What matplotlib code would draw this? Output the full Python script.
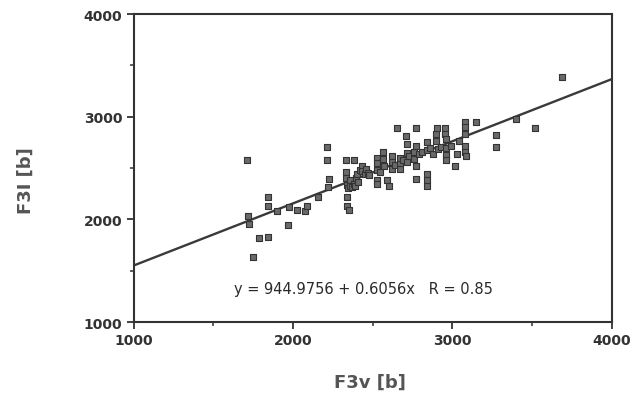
import matplotlib
matplotlib.use("Agg")
import matplotlib.pyplot as plt
import numpy as np
from matplotlib.ticker import MultipleLocator

f3v = [1710, 1720, 1722, 1752, 1790, 1846, 1846, 1846, 1898, 1970, 1972, 2027, 2075, 2086,
       2160, 2215, 2215, 2228, 2221, 2332, 2382, 2336, 2340, 2351,
       2330, 2335, 2340, 2345, 2355, 2360, 2370, 2380, 2390, 2395, 2400, 2410, 2420, 2431,
       2435, 2450, 2460, 2470, 2480,
       2525, 2525, 2525, 2525, 2525, 2545, 2566, 2566, 2570, 2588, 2600, 2619, 2619, 2619,
       2640, 2650, 2671, 2671, 2671, 2690,
       2708, 2713, 2713, 2713, 2730, 2760, 2760, 2771, 2771, 2771, 2771, 2790, 2810, 2838,
       2838, 2838, 2838, 2838,
       2860, 2880, 2900, 2900, 2905, 2910, 2930, 2955, 2955, 2963, 2963, 2963, 2963, 2990,
       3015, 3026, 3040, 3078, 3078, 3078, 3080, 3080, 3088,
       3150, 3276, 3276, 3401, 3520, 3689]
f3l = [2575, 2030, 1960, 1635, 1820, 1830, 2215, 2135, 2085, 1950, 2125, 2090, 2085, 2130,
       2215, 2705, 2575, 2390, 2315, 2575, 2575, 2215, 2135, 2095,
       2460, 2400, 2340, 2310, 2380, 2330, 2320, 2350, 2330, 2400, 2440, 2360, 2480, 2520,
       2475, 2440, 2490, 2450, 2430,
       2600, 2550, 2480, 2380, 2345, 2460, 2655, 2590, 2520, 2380, 2330, 2620, 2560, 2490,
       2530, 2895, 2600, 2540, 2490, 2580,
       2815, 2735, 2650, 2560, 2620, 2660, 2590, 2895, 2717, 2525, 2395, 2640, 2660, 2750,
       2680, 2440, 2380, 2330,
       2700, 2640, 2830, 2760, 2895, 2690, 2710, 2895, 2830, 2780, 2700, 2630, 2575, 2720,
       2525, 2636, 2760, 2950, 2900, 2830, 2717, 2660, 2620,
       2950, 2825, 2710, 2980, 2895, 3390]

intercept = 944.9756
slope = 0.6056
r_value = 0.85
x_ticks = [1000, 2000, 3000, 4000]
y_ticks = [1000, 2000, 3000, 4000]

fig = plt.figure(figsize=(6.42, 4.10), dpi=100)
ax = fig.add_axes([0.208, 0.212, 0.745, 0.751])

ax.scatter(f3v, f3l, marker='s', s=18, facecolor='#6a6a6a', edgecolor='#333333',
           linewidths=0.8, zorder=3)
xl = np.array([1000, 4000])
ax.plot(xl, intercept + slope * xl, color='#3a3a3a', lw=1.7, zorder=2)

ax.set_xlim(1000, 4000)
ax.set_ylim(1000, 4000)
ax.set_xticks(x_ticks)
ax.set_yticks(y_ticks)
ax.xaxis.set_minor_locator(MultipleLocator(500))
ax.yaxis.set_minor_locator(MultipleLocator(500))
ax.tick_params(which='major', direction='out', length=5, width=1.3, color='#333333',
               labelsize=10, labelcolor='#333333', pad=3)
ax.tick_params(which='minor', direction='out', length=3, width=1.1, color='#333333')
for lab in ax.get_xticklabels() + ax.get_yticklabels():
    lab.set_fontweight('bold')
for sp in ax.spines.values():
    sp.set_linewidth(1.5)
    sp.set_color('#333333')

ax.text(2440, 1330, f"y = {intercept:.4f} + {slope:.4f}x   R = {r_value:.2f}",
        ha='center', va='center', fontsize=10.5, color='#2a2a2a')

fig.text(0.577, 0.066, "F3v [b]", ha='center', va='center', fontsize=13,
         fontweight='bold', color='#555555')
fig.text(0.040, 0.56, "F3I [b]", ha='center', va='center', fontsize=13,
         fontweight='bold', color='#555555', rotation=90)

fig.savefig("out.png", dpi=100)
